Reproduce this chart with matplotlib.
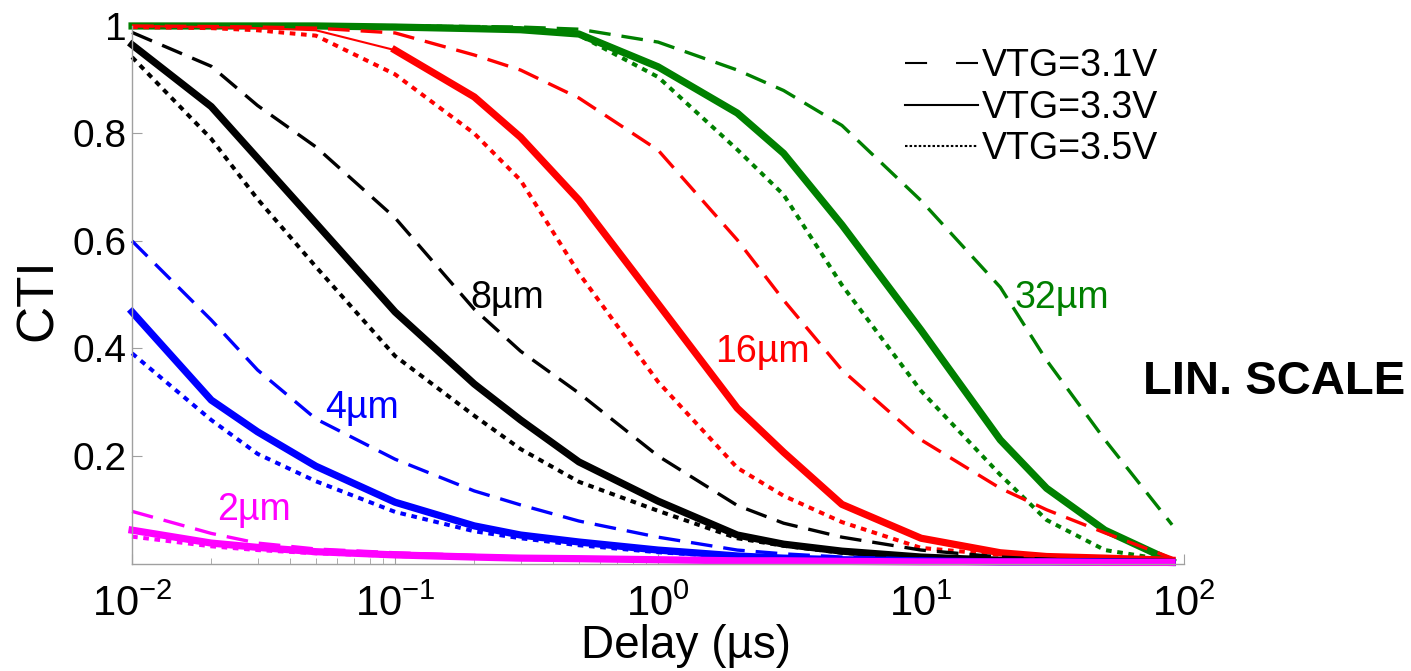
import matplotlib
matplotlib.use('Agg')
import matplotlib.pyplot as plt
from matplotlib.lines import Line2D

plt.rcParams['font.family'] = ['Liberation Sans', 'DejaVu Sans']
plt.rcParams['mathtext.fontset'] = 'custom'
plt.rcParams['mathtext.rm'] = 'Liberation Sans'
plt.rcParams['mathtext.it'] = 'Liberation Sans:italic'
plt.rcParams['mathtext.bf'] = 'Liberation Sans:bold'

# ---------------- data ----------------
delay_us = [0.01, 0.02, 0.03, 0.05, 0.1, 0.2, 0.3, 0.5, 1, 2, 3, 5, 10, 20, 30, 50, 90]

cti_2um_31 = [0.097, 0.056, 0.038, 0.027, 0.020, 0.015, 0.012, 0.010, 0.008, 0.006, 0.005, 0.005, 0.004, 0.003, 0.003, 0.003, 0.003]
cti_2um_33 = [0.062, 0.038, 0.030, 0.022, 0.016, 0.012, 0.010, 0.009, 0.007, 0.005, 0.005, 0.004, 0.003, 0.003, 0.003, 0.002, 0.002]
cti_2um_35 = [0.050, 0.032, 0.025, 0.019, 0.014, 0.011, 0.009, 0.008, 0.006, 0.005, 0.004, 0.004, 0.003, 0.003, 0.002, 0.002, 0.002]

cti_4um_31 = [0.600, 0.453, 0.360, 0.269, 0.194, 0.135, 0.109, 0.079, 0.049, 0.025, 0.018, 0.012, 0.008, 0.005, 0.004, 0.003, 0.002]
cti_4um_33 = [0.468, 0.304, 0.245, 0.181, 0.114, 0.070, 0.053, 0.040, 0.025, 0.014, 0.010, 0.007, 0.005, 0.003, 0.003, 0.003, 0.002]
cti_4um_35 = [0.391, 0.267, 0.204, 0.153, 0.096, 0.060, 0.047, 0.034, 0.021, 0.012, 0.009, 0.006, 0.004, 0.003, 0.003, 0.002, 0.002]

cti_8um_31 = [0.988, 0.925, 0.852, 0.775, 0.643, 0.473, 0.395, 0.317, 0.200, 0.108, 0.075, 0.049, 0.025, 0.012, 0.008, 0.004, 0.002]
cti_8um_33 = [0.965, 0.850, 0.754, 0.633, 0.468, 0.334, 0.267, 0.189, 0.116, 0.053, 0.036, 0.023, 0.012, 0.006, 0.004, 0.003, 0.002]
cti_8um_35 = [0.942, 0.790, 0.678, 0.552, 0.386, 0.275, 0.213, 0.152, 0.098, 0.047, 0.033, 0.020, 0.010, 0.005, 0.003, 0.002, 0.002]

cti_16um_31 = [1.000, 0.999, 0.998, 0.996, 0.987, 0.946, 0.918, 0.866, 0.769, 0.602, 0.490, 0.360, 0.230, 0.140, 0.100, 0.057, 0.010]
cti_16um_33 = [1.000, 0.998, 0.996, 0.992, 0.955, 0.868, 0.793, 0.676, 0.483, 0.289, 0.207, 0.110, 0.047, 0.020, 0.013, 0.010, 0.006]
cti_16um_35 = [0.998, 0.996, 0.992, 0.982, 0.910, 0.800, 0.713, 0.540, 0.338, 0.178, 0.126, 0.077, 0.029, 0.016, 0.012, 0.008, 0.005]

cti_32um_31 = [1.000, 1.000, 1.000, 1.000, 1.000, 0.999, 0.998, 0.994, 0.970, 0.918, 0.880, 0.815, 0.675, 0.514, 0.378, 0.230, 0.072]
cti_32um_33 = [1.000, 1.000, 1.000, 1.000, 0.998, 0.995, 0.993, 0.985, 0.924, 0.838, 0.763, 0.630, 0.434, 0.230, 0.140, 0.062, 0.004]
cti_32um_35 = [1.000, 1.000, 1.000, 1.000, 1.000, 0.998, 0.995, 0.983, 0.905, 0.770, 0.686, 0.518, 0.321, 0.165, 0.081, 0.025, 0.005]

width_labels = ['32µm', '16µm', '8µm', '4µm', '2µm']
width_colors = ['#008000', '#ff0000', '#000000', '#0000ff', '#ff00ff']
series = [
    (cti_32um_31, cti_32um_33, cti_32um_35),
    (cti_16um_31, cti_16um_33, cti_16um_35),
    (cti_8um_31, cti_8um_33, cti_8um_35),
    (cti_4um_31, cti_4um_33, cti_4um_35),
    (cti_2um_31, cti_2um_33, cti_2um_35),
]
# label anchor positions (x in µs, y in CTI)
label_x = [22.7, 1.65, 0.193, 0.0542, 0.021]
label_y = [0.494, 0.393, 0.494, 0.289, 0.10]

legend_labels = ['VTG=3.1V', 'VTG=3.3V', 'VTG=3.5V']

# ---------------- figure ----------------
fig = plt.figure(figsize=(14.11, 6.71), dpi=100)
ax = fig.add_axes([0.0936, 0.1602, 0.7456, 0.8011])

dash_kw = dict(linestyle=(0, (6.5, 3.3)), linewidth=2.4)
dot_kw = dict(linestyle=(0, (1.4, 1.4)), linewidth=2.9)
solid_lw = 5.2

for (s31, s33, s35), col in zip(series, width_colors):
    ax.plot(delay_us, s31, color=col, clip_on=False, **dash_kw)
    ax.plot(delay_us, s35, color=col, clip_on=False, **dot_kw)
    if col == '#ff0000':
        ax.plot(delay_us[:5], s33[:5], color=col, lw=1.5, clip_on=False,
                solid_capstyle='butt')
        ax.plot(delay_us[4:], s33[4:], color=col, lw=solid_lw, clip_on=False)
    else:
        ax.plot(delay_us, s33, color=col, lw=solid_lw, clip_on=False)

for lab, col, lx, ly in zip(width_labels, width_colors, label_x, label_y):
    ax.text(lx, ly, lab, color=col, fontsize=27, ha='left', va='center')

ax.set_xscale('log')
ax.set_xlim(0.01, 100)
ax.set_ylim(0, 1)
ax.set_xticks([0.01, 0.1, 1, 10, 100])
ax.set_xticklabels([r'$10^{-2}$', r'$10^{-1}$', r'$10^{0}$', r'$10^{1}$', r'$10^{2}$'])
ax.set_yticks([0.2, 0.4, 0.6, 0.8, 1.0])
ax.set_yticklabels(['0.2', '0.4', '0.6', '0.8', '1'])

for side in ['top', 'right']:
    ax.spines[side].set_visible(False)
for side in ['left', 'bottom']:
    ax.spines[side].set_color('#a0a0a0')
    ax.spines[side].set_linewidth(1.0)

ax.tick_params(axis='both', which='both', direction='in', color='#a0a0a0',
               labelcolor='black')
ax.tick_params(axis='y', labelsize=28)
ax.tick_params(axis='x', labelsize=30)
ax.tick_params(axis='both', which='major', length=7)
ax.tick_params(axis='x', which='minor', length=4)
ax.tick_params(axis='x', which='major', pad=15)
ax.tick_params(axis='y', which='major', pad=4)

ax.set_xlabel('Delay (µs)', fontsize=33)
ax.xaxis.set_label_coords(0.527, -0.112)
ax.xaxis.label.set_verticalalignment('top')
ax.set_ylabel('CTI', fontsize=37)
ax.yaxis.set_label_coords(-0.066, 0.49)

handles = [
    Line2D([], [], color='black', lw=1.5, linestyle=(0, (10.6, 13.9))),
    Line2D([], [], color='black', lw=1.5),
    Line2D([], [], color='black', lw=1.5, linestyle=(0, (1.2, 1.0))),
]
fig.legend(handles, legend_labels, loc='upper left',
           bbox_to_anchor=(905 / 1411, 1 - 48 / 671), frameon=False,
           fontsize=27, handlelength=1.95, handletextpad=0.1,
           labelspacing=0.15, borderpad=0, borderaxespad=0)

fig.text(1143 / 1411, 1 - 382 / 671, 'LIN. SCALE', fontsize=34,
         fontweight='bold', ha='left', va='center')

fig.savefig('out.png', dpi=100)
